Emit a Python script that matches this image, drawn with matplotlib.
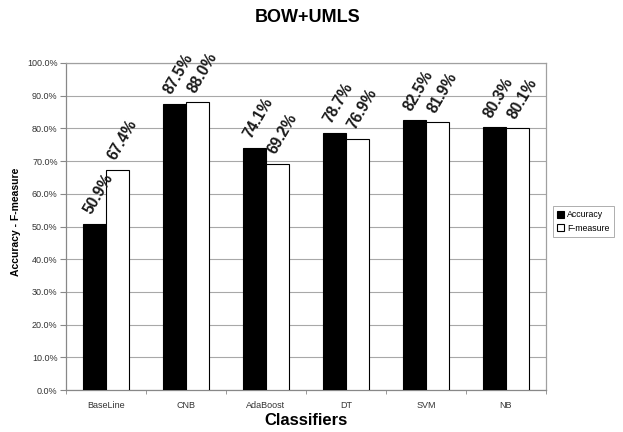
import matplotlib
matplotlib.use("Agg")
import matplotlib.pyplot as plt
import numpy as np

plt.rcParams['font.family'] = ['Liberation Sans', 'DejaVu Sans']

classifiers = ['BaseLine', 'CNB', 'AdaBoost', 'DT', 'SVM', 'NB']
accuracy = [50.9, 87.5, 74.1, 78.7, 82.5, 80.3]
fmeasure = [67.4, 88.0, 69.2, 76.9, 81.9, 80.1]
yticks = np.arange(0, 101, 10)

fig = plt.figure(figsize=(6.23, 4.32), dpi=100)
ax = fig.add_axes([66/623, 1-390/432, 480/623, 327/432])

x = np.arange(len(classifiers))
w = 0.29
ax.bar(x - w/2, accuracy, w, color='black', edgecolor='black', linewidth=0.8,
       label='Accuracy', zorder=3)
ax.bar(x + w/2, fmeasure, w, color='white', edgecolor='black', linewidth=0.8,
       label='F-measure', zorder=3)

# rotated value labels above each bar
for xs, vals in ((x - w/2, accuracy), (x + w/2, fmeasure)):
    for xi, v in zip(xs, vals):
        ax.annotate('%.1f%%' % v, (xi, v), xytext=(0, 5), textcoords='offset points',
                    rotation=60, rotation_mode='anchor', ha='left', va='bottom',
                    fontsize=11.2, fontweight='bold', color='#1a1a1a')

ax.set_xlim(-0.5, len(classifiers) - 0.5)
ax.set_ylim(0, 100)
ax.set_yticks(yticks)
ax.set_yticklabels(['%.1f%%' % t for t in yticks], fontsize=6.5, color='#333333')
ax.yaxis.grid(True, color='#a8a8a8', linewidth=0.8, zorder=0)
ax.set_axisbelow(True)

ax.set_xticks(x)
ax.set_xticklabels(classifiers, fontsize=6.5, color='#333333')
ax.tick_params(axis='x', which='major', length=0, pad=8)
ax.set_xticks(np.arange(-0.5, len(classifiers)), minor=True)
ax.tick_params(axis='x', which='minor', length=3, color='#888888')
ax.tick_params(axis='y', length=4, color='#888888', pad=2)

for s in ax.spines.values():
    s.set_color('#a0a0a0')
    s.set_linewidth(0.9)
ax.spines['bottom'].set_color('#888888')
ax.spines['left'].set_color('#888888')

ax.set_xlabel('Classifiers', fontsize=12, fontweight='bold', labelpad=2)
ax.set_ylabel('Accuracy - F-measure', fontsize=7.5, fontweight='bold')
ax.yaxis.set_label_coords(-0.094, 0.514)
fig.text(308/623, 1-18/432, 'BOW+UMLS', fontsize=13, fontweight='bold',
         ha='center', va='center')

leg = ax.legend(loc='center left', bbox_to_anchor=((553 - 66)/480, 0.515),
                fontsize=6.3, frameon=True, fancybox=False, edgecolor='#999999',
                handlelength=0.8, handleheight=0.8, handletextpad=0.3,
                borderpad=0.5, labelspacing=0.5, borderaxespad=0)
leg.get_frame().set_linewidth(0.7)

fig.savefig('out.png', dpi=100)
